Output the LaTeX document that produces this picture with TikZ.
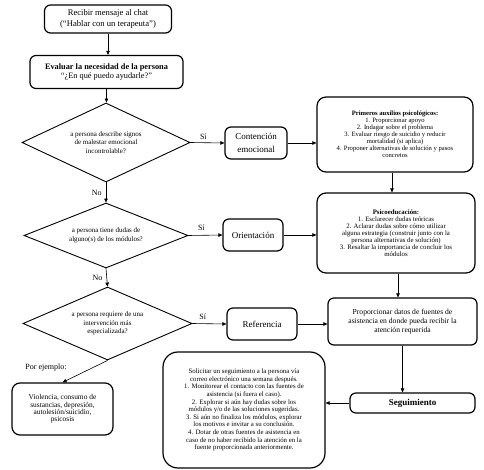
\documentclass[tikz,border=0pt]{standalone}
\usepackage{fontspec}
\setmainfont{Liberation Serif}
\usepackage{tikz}
\usetikzlibrary{arrows.meta,positioning,shapes.geometric}

\begin{document}
\begin{tikzpicture}[x=1pt,y=-1pt,
  box/.style={rounded corners=6pt,draw,line width=1.2pt,align=center,inner sep=1pt},
  decision/.style={diamond,draw,line width=0.9pt,align=center,inner sep=0pt,shape aspect=2.2,font=\fontsize{7}{8.4}\selectfont},
  flow/.style={-{Triangle[length=4pt,width=3.5pt]},line width=0.6pt},
  lbl/.style={font=\fontsize{8}{9}\selectfont,inner sep=1pt}
]
\useasboundingbox (0,0) rectangle (484,470);
\node[box,minimum width=127pt,minimum height=28pt,font=\fontsize{8.6}{11}\selectfont] (recibir) at (108,19) {Recibir mensaje al chat\\(“Hablar con un terapeuta”)};
\node[box,minimum width=153pt,minimum height=33pt,font=\fontsize{8.3}{8.6}\selectfont] (evaluar) at (106.5,72) {\textbf{Evaluar la necesidad de la persona}\\“¿En qué puedo ayudarle?”};
\node[decision,minimum width=168pt,minimum height=79pt] (d1) at (106,142.5) {a persona describe signos\\de malestar emocional\\incontrolable?};
\node[box,minimum width=62pt,minimum height=32pt,font=\fontsize{9}{12.5}\selectfont] (cont) at (256,143) {Contención\\emocional};
\node[box,rounded corners=9pt,minimum width=156pt,minimum height=75pt,font=\fontsize{6.6}{7}\selectfont] (pap) at (395,134.5) {\textbf{Primeros auxilios psicológicos:}\\1. Proporcionar apoyo\\2. Indagar sobre el problema\\3. Evaluar riesgo de suicidio y reducir\\mortalidad (si aplica)\\4. Proponer alternativas de solución y pasos\\concretos};
\node[decision,minimum width=164pt,minimum height=65pt] (d2) at (106,235.5) {a persona tiene dudas de\\alguno(s) de los módulos?};
\node[box,minimum width=60pt,minimum height=32pt,font=\fontsize{9}{12}\selectfont] (orient) at (253,235) {Orientación};
\node[box,rounded corners=9pt,minimum width=158pt,minimum height=80pt,font=\fontsize{6.8}{7}\selectfont] (psico) at (396,233) {\textbf{Psicoeducación:}\\1. Esclarecer dudas teóricas\\2. Aclarar dudas sobre cómo utilizar\\alguna estrategia (construir junto con la\\persona alternativas de solución)\\3. Resaltar la importancia de concluir los\\módulos};
\node[decision,minimum width=169pt,minimum height=73pt] (d3) at (107.5,323.5) {a persona requiere de una\\intervención más\\especializada?};
\node[box,minimum width=70pt,minimum height=32pt,font=\fontsize{9}{12}\selectfont] (ref) at (262,324) {Referencia};
\node[box,minimum width=149pt,minimum height=47pt,font=\fontsize{7.6}{9}\selectfont] (prop) at (402.5,321.5) {Proporcionar datos de fuentes de\\asistencia en donde pueda recibir la\\atención requerida};
\node[lbl] (ejlbl) at (46,368) {Por ejemplo:};
\node[box,rounded corners=8pt,minimum width=101pt,minimum height=52pt,font=\fontsize{7.4}{7.3}\selectfont] (ejemplo) at (62.5,409) {Violencia, consumo de\\sustancias, depresión,\\autolesión/suicidio,\\psicosis};
\node[box,minimum width=125pt,minimum height=20pt,font=\fontsize{9}{10}\selectfont] (seg) at (412.5,403) {\textbf{Seguimiento}};
\node[box,rounded corners=15pt,minimum width=162pt,minimum height=116pt,font=\fontsize{6.8}{7.6}\selectfont] (seguir) at (244,410) {Solicitar un seguimiento a la persona vía\\correo electrónico una semana después.\\1. Monitorear el contacto con las fuentes de\\asistencia (si fuera el caso).\\2. Explorar si aún hay dudas sobre los\\módulos y/o de las soluciones sugeridas.\\3. Si aún no finaliza los módulos, explorar\\los motivos e invitar a su conclusión.\\4. Dotar de otras fuentes de asistencia en\\caso de no haber recibido la atención en la\\fuente proporcionada anteriormente.};
\draw[flow] (recibir.south) -- (recibir.south |- evaluar.north);
\draw[flow] (evaluar.south) -- (evaluar.south |- d1.north);
\draw[flow] (d1.east) -- node[lbl,above=2pt,pos=0.38] {Sí} (cont.west);
\draw[flow] (cont.east) -- (cont.east -| pap.west);
\draw[flow] ([xshift=-3pt]pap.south) -- ([xshift=-3pt]pap.south |- psico.north);
\draw[flow] (d1.south) -- node[lbl,left=3pt] {No} (d2.north);
\draw[flow] (d2.east) -- node[lbl,above=3pt,pos=0.38] {Sí} (orient.west);
\draw[flow] (orient.east) -- (orient.east -| psico.west);
\draw[flow] ([xshift=2pt]psico.south) -- ([xshift=2pt]psico.south |- prop.north);
\draw[flow] (d2.south) -- node[lbl,left=3pt] {No} (d3.north);
\draw[flow] (d3.east) -- node[lbl,above=3pt,pos=0.3] {Sí} (ref.west);
\draw[flow] (ref.east) -- (ref.east -| prop.west);
\draw[flow] (prop.south) -- (prop.south |- seg.north);
\draw[flow] (seg.west) -- (seg.west -| seguir.east);
\draw[flow] (d3.south) -- (ejemplo.north);
\end{tikzpicture}
\end{document}
